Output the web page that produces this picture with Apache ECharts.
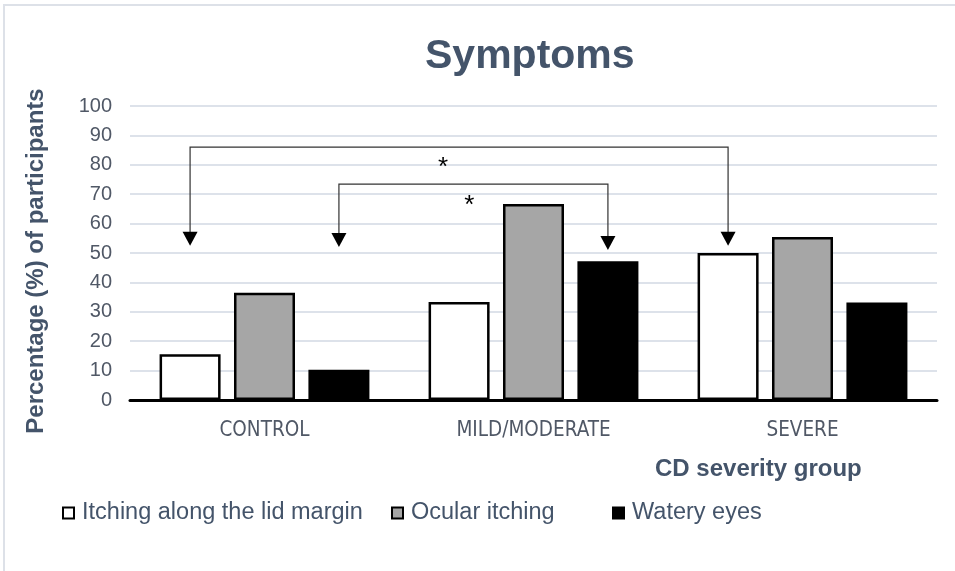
<!DOCTYPE html>
<html>
<head>
<meta charset="utf-8">
<script src="https://cdn.jsdelivr.net/npm/echarts@6/dist/echarts.min.js"></script>
<style>
html, body { margin: 0; padding: 0; background: #fff; }
#main { width: 955px; height: 571px; }
</style>
</head>
<body>
<div id="main"></div>
<script>
// data
const categories = ['CONTROL', 'MILD/MODERATE', 'SEVERE'];
const seriesNames = ['Itching along the lid margin', 'Ocular itching', 'Watery eyes'];
const lidMargin = [15.6, 33.3, 50];
const ocularItching = [36.5, 66.7, 55.4];
const wateryEyes = [10.3, 47.2, 33.2];
const yTicks = [0, 100, 10]; // min, max, interval

// significance brackets: [series, category] -> [series, category]
const brackets = [
  { from: [0, 0], to: [0, 2], level: 86, tipFrom: 52.5, tipTo: 52.5, star: 79, starAt: 0.47 },
  { from: [2, 0], to: [2, 1], level: 73.4, tipFrom: 52, tipTo: 51, star: 66.2, starAt: 0.485 }
];

const textBlue = '#44546a';
const labelGray = '#505866';

const chart = echarts.init(document.getElementById('main'), null, { renderer: 'canvas' });

function barStyle(fill) {
  return { color: fill, borderColor: '#000', borderWidth: 2.5 };
}

const fills = ['#ffffff', '#a6a6a6', '#000000'];
const values = [lidMargin, ocularItching, wateryEyes];
const legendLeft = [57, 386, 607];

const option = {
  animation: false,
  backgroundColor: '#fff',
  title: {
    text: 'Symptoms',
    left: 420,
    top: 31,
    textStyle: { fontFamily: 'Liberation Sans', fontWeight: 'bold', fontSize: 41, color: textBlue }
  },
  legend: seriesNames.map((n, i) => ({
    data: [n],
    left: legendLeft[i],
    top: 496,
    itemWidth: 11,
    itemHeight: 11,
    icon: 'rect',
    itemStyle: { borderColor: '#000', borderWidth: 2 },
    textStyle: { fontFamily: 'Liberation Sans', fontSize: 23.5, color: textBlue, padding: [0, 0, 0, 3] },
    selectedMode: false
  })),
  grid: { left: 130, right: 18, top: 106, bottom: 171 },
  xAxis: {
    type: 'category',
    data: categories,
    axisLine: { lineStyle: { color: '#000', width: 3 } },
    axisTick: { show: false },
    axisLabel: { margin: 20, fontFamily: '"DejaVu Sans Condensed", "Liberation Sans"', fontSize: 20.5, color: labelGray }
  },
  yAxis: {
    type: 'value',
    min: yTicks[0],
    max: yTicks[1],
    interval: yTicks[2],
    name: 'Percentage (%) of participants',
    nameLocation: 'middle',
    nameGap: 82,
    nameTextStyle: { fontFamily: 'Liberation Sans', fontWeight: 'bold', fontSize: 24, color: textBlue, padding: [0, 16, 0, 0] },
    axisLine: { show: false },
    axisTick: { show: false },
    axisLabel: { margin: 18, fontFamily: 'Liberation Sans', fontSize: 20, color: labelGray },
    splitLine: { lineStyle: { color: '#dde2ea', width: 2 } }
  },
  series: seriesNames.map((n, i) => ({
    name: n,
    type: 'bar',
    data: values[i],
    barWidth: 61,
    barGap: '22%',
    itemStyle: barStyle(fills[i]),
    emphasis: { disabled: true }
  }))
};

chart.setOption(option);

// draw the brackets from the bar layout and the y scale
function barCenter(s, d) {
  const lay = chart.getModel().getSeriesByIndex(s).getData().getItemLayout(d);
  return lay.x + lay.width / 2;
}
function yPx(v) {
  return chart.convertToPixel({ yAxisIndex: 0 }, v);
}
function arrowHead(x, y) {
  return {
    type: 'polygon',
    shape: { points: [[x - 7.5, y - 14], [x + 7.5, y - 14], [x, y]] },
    style: { fill: '#000' }
  };
}

const graphics = [{
  type: 'rect',
  shape: { x: 4, y: 5, width: 1000, height: 700 },
  style: { fill: 'none', stroke: '#dde1e8', lineWidth: 2 },
  silent: true
}, {
  type: 'text',
  left: 655,
  top: 457,
  style: { text: 'CD severity group', font: 'bold 24px "Liberation Sans"', fill: textBlue }
}];

brackets.forEach((b, k) => {
  const x1 = barCenter(b.from[0], b.from[1]);
  const x2 = barCenter(b.to[0], b.to[1]);
  const yl = yPx(b.level);
  const t1 = yPx(b.tipFrom);
  const t2 = yPx(b.tipTo);
  const stroke = { stroke: '#333', lineWidth: 1.2, fill: 'none' };
  graphics.push({
    type: 'polyline',
    shape: { points: [[x1, t1 - 12], [x1, yl], [x2, yl], [x2, t2 - 12]] },
    style: stroke
  });
  graphics.push(arrowHead(x1, t1));
  graphics.push(arrowHead(x2, t2));
  graphics.push({
    type: 'text',
    x: x1 + (x2 - x1) * b.starAt,
    y: yPx(b.star),
    style: { text: '*', font: '26px "Liberation Sans"', fill: '#000', align: 'center', verticalAlign: 'middle' }
  });
});

chart.setOption({ graphic: graphics });
</script>
</body>
</html>
